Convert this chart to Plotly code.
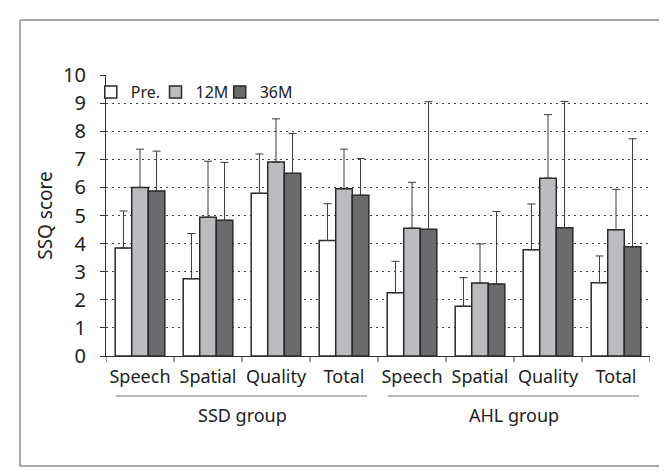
import plotly.graph_objects as go

# ---- data ----
groups = ["SSD group", "AHL group"]
subscales = ["Speech", "Spatial", "Quality", "Total"]
series_names = ["Pre.", "12M", "36M"]

pre_mean = [3.84, 2.75, 5.79, 4.11, 2.25, 1.77, 3.78, 2.61]
pre_top = [5.16, 4.36, 7.19, 5.42, 3.37, 2.79, 5.41, 3.56]
m12_mean = [6.00, 4.94, 6.90, 5.95, 4.55, 2.60, 6.33, 4.49]
m12_top = [7.36, 6.93, 8.44, 7.36, 6.18, 3.99, 8.59, 5.93]
m36_mean = [5.87, 4.83, 6.50, 5.72, 4.51, 2.56, 4.56, 3.89]
m36_top = [7.29, 6.89, 7.92, 7.03, 9.05, 5.14, 9.06, 7.73]

y_ticks = list(range(0, 11))

# ---- styling ----
colors = ["#ffffff", "#bbbcbf", "#6a6b6d"]
FONT = "Noto Sans, Open Sans, sans-serif"
W, H = 667, 471
ML, MR, MT, MB = 98, 25, 67, 123
PW, PH = W - ML - MR, H - MT - MB

cat_labels = subscales * len(groups)
xs = list(range(len(cat_labels)))

means = [pre_mean, m12_mean, m36_mean]
tops = [pre_top, m12_top, m36_top]
legend_ids = ["legend", "legend2", "legend3"]
legend_x = [-0.028, 0.091, 0.209]

fig = go.Figure()
for name, col, mv, tv, lg in zip(series_names, colors, means, tops, legend_ids):
    fig.add_trace(go.Bar(
        x=xs, y=mv, name=name, legend=lg,
        marker=dict(color=col, line=dict(color="#2a2a2a", width=1.5)),
        error_y=dict(type="data", symmetric=False,
                     array=[t - m for t, m in zip(tv, mv)],
                     arrayminus=[0] * len(mv),
                     color="#3a3a3a", thickness=1, width=4),
    ))

def px2py(px_down):
    return -px_down / PH

shapes = []
# boundary ticks on the x axis
for b in [i - 0.5 for i in range(len(cat_labels) + 1)]:
    shapes.append(dict(type="line", xref="x", yref="paper", x0=b, x1=b,
                       y0=0, y1=px2py(6), line=dict(color="#333", width=1)))
# group underlines + labels
annotations = []
n = len(subscales)
for gi, g in enumerate(groups):
    x0 = gi * n - 0.5 + 0.14
    x1 = gi * n + n - 0.5 - 0.16
    shapes.append(dict(type="line", xref="x", yref="paper", x0=x0, x1=x1,
                       y0=px2py(40), y1=px2py(40),
                       line=dict(color="#777", width=1)))
    annotations.append(dict(x=gi * n + (n - 1) / 2, y=px2py(59), xref="x", yref="paper",
                            text=g, showarrow=False, yanchor="middle",
                            font=dict(family=FONT, size=18, color="#222")))
# outer frame
shapes.append(dict(type="rect", xref="paper", yref="paper",
                   x0=(12 - ML) / PW, x1=(655 - ML) / PW,
                   y0=-(458 - MT - PH) / PH, y1=1 + (MT - 12) / PH,
                   line=dict(color="#555", width=1)))

legend_common = dict(orientation="h", y=1.0, xanchor="left", yanchor="top",
                     bgcolor="rgba(0,0,0,0)", font=dict(size=16), itemwidth=30)
legends = {lg: dict(legend_common, x=lx) for lg, lx in zip(legend_ids, legend_x)}

fig.update_layout(
    width=W, height=H,
    margin=dict(l=ML, r=MR, t=MT, b=MB, pad=0),
    paper_bgcolor="white", plot_bgcolor="white",
    barmode="group", bargap=0.27, bargroupgap=0,
    font=dict(family=FONT, size=16, color="#222"),
    showlegend=True,
    shapes=shapes, annotations=annotations,
    xaxis=dict(range=[-0.5, len(cat_labels) - 0.5], tickvals=xs, ticktext=cat_labels,
               ticks="", showgrid=False, zeroline=False,
               showline=True, linecolor="#333", linewidth=1,
               ticklabelstandoff=4,
               tickfont=dict(size=18, color="#222")),
    yaxis=dict(range=[0, 10], tickvals=y_ticks, ticks="outside", ticklen=5,
               tickcolor="#333", showline=True, linecolor="#333", linewidth=1,
               showgrid=True, gridcolor="#444", griddash="1.5px,4.5px", gridwidth=1,
               zeroline=False, ticklabelstandoff=10,
               tickfont=dict(size=20, color="#222"),
               title=dict(text="SSQ score", font=dict(size=19, color="#222"), standoff=5)),
    **legends,
)

fig.write_html("out.html")
